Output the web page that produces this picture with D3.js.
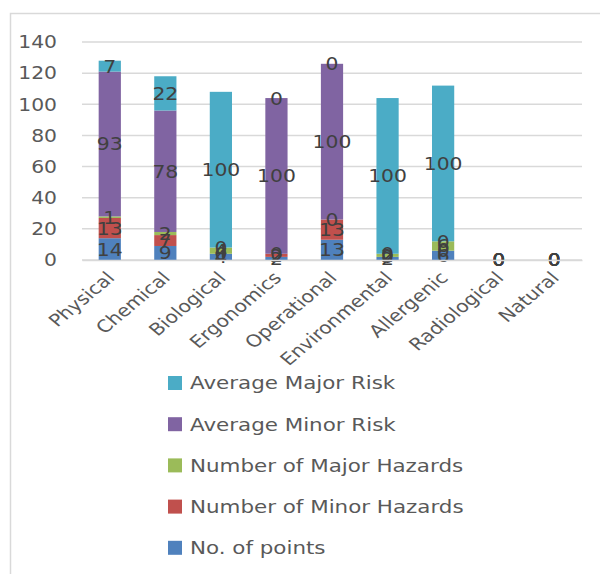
<!DOCTYPE html>
<html>
<head>
<meta charset="utf-8">
<script src="https://cdn.jsdelivr.net/npm/d3@7"></script>
<style>
  body { margin: 0; background: #fff; }
  text { font-family: "DejaVu Sans", sans-serif; }
</style>
</head>
<body>
<div id="chart"></div>
<script>
// categories and series
var categories = ["Physical", "Chemical", "Biological", "Ergonomics", "Operational",
  "Environmental", "Allergenic", "Radiological", "Natural"];
var noOfPoints   = [14, 9, 4, 2, 13, 2, 6, 0, 0];
var minorHazards = [13, 7, 0, 2, 13, 0, 0, 0, 0];
var majorHazards = [1, 2, 4, 0, 0, 2, 6, 0, 0];
var avgMinorRisk = [93, 78, 0, 100, 100, 0, 0, 0, 0];
var avgMajorRisk = [7, 22, 100, 0, 0, 100, 100, 0, 0];
var seriesNames = ["No. of points", "Number of Minor Hazards", "Number of Major Hazards",
  "Average Minor Risk", "Average Major Risk"];
var seriesColors = ["#4F81BD", "#C0504D", "#9BBB59", "#8064A2", "#4BACC6"];
var yTicks = [0, 20, 40, 60, 80, 100, 120, 140];

var svgWidth = 600, svgHeight = 574;
// the picture is stretched sideways a little, so text gets widened too
var stretch = 1.13;

var svg = d3.select("#chart").append("svg")
  .attr("width", svgWidth)
  .attr("height", svgHeight);

// chart area border (only top and left show)
svg.append("rect")
  .attr("x", 10.5).attr("y", 13.5)
  .attr("width", 700).attr("height", 700)
  .attr("fill", "none")
  .attr("stroke", "#d9d9d9")
  .attr("stroke-width", 1.5);

var x = d3.scaleBand().domain(categories).range([82, 582]).paddingInner(0.6).paddingOuter(0.3);
var y = d3.scaleLinear().domain([0, 140]).range([260, 42]);

// gridlines
svg.append("g").selectAll("line")
  .data(yTicks)
  .enter().append("line")
  .attr("x1", 82).attr("x2", 582)
  .attr("y1", d => y(d)).attr("y2", d => y(d))
  .attr("stroke", "#d9d9d9")
  .attr("stroke-width", 1.5);

// y axis labels
var leftAxis = d3.axisLeft(y).tickValues(yTicks).tickSize(0).tickPadding(0);
var yAxis = svg.append("g").attr("transform", "translate(57,0)").call(leftAxis);
yAxis.select(".domain").remove();
yAxis.selectAll("text")
  .attr("fill", "#595959")
  .attr("transform", `scale(${stretch},1)`)
  .style("font-size", "18px")
  .style("font-family", "DejaVu Sans, sans-serif");

// stack the data
var table = categories.map(function(c, i) {
  return {
    cat: c,
    s0: noOfPoints[i], s1: minorHazards[i], s2: majorHazards[i],
    s3: avgMinorRisk[i], s4: avgMajorRisk[i]
  };
});
var stack = d3.stack().keys(["s0", "s1", "s2", "s3", "s4"]);
var layers = stack(table);

var groups = svg.append("g").selectAll("g")
  .data(layers)
  .enter().append("g")
  .attr("fill", (d, i) => seriesColors[i]);

groups.selectAll("rect")
  .data(d => d)
  .enter().append("rect")
  .attr("x", d => x(d.data.cat))
  .attr("width", x.bandwidth())
  .attr("y", d => y(d[1]))
  .attr("height", d => y(d[0]) - y(d[1]));

// data labels in the middle of each segment
var labels = svg.append("g");
layers.forEach(function(layer) {
  labels.selectAll(null)
    .data(layer)
    .enter().append("text")
    .attr("transform", d => `translate(${x(d.data.cat) + x.bandwidth() / 2},${y((d[0] + d[1]) / 2)}) scale(${stretch},1)`)
    .attr("dy", "0.36em")
    .attr("text-anchor", "middle")
    .attr("fill", "#404040")
    .style("font-size", "18px")
    .text(d => d[1] - d[0]);
});

// category labels
var bottomAxis = d3.axisBottom(x).tickSize(0).tickPadding(0);
var xAxis = svg.append("g").attr("transform", "translate(0,260)").call(bottomAxis);
xAxis.select(".domain")
  .attr("stroke", "#d9d9d9")
  .attr("stroke-width", 1.5);
xAxis.selectAll("text")
  .attr("fill", "#595959")
  .style("font-size", "17px")
  .style("font-family", "DejaVu Sans, sans-serif")
  .attr("text-anchor", "end")
  .attr("y", 0)
  .attr("dy", "0")
  .attr("transform", `translate(6,19) scale(1.2,1) rotate(-45)`);

// legend, top to bottom
var legendOrder = [4, 3, 2, 1, 0];
var legend = svg.append("g").selectAll("g")
  .data(legendOrder)
  .enter().append("g")
  .attr("transform", (d, i) => `translate(168, ${383 + i * 41.2})`);

legend.append("rect")
  .attr("x", 0).attr("y", -7)
  .attr("width", 14).attr("height", 14)
  .attr("fill", d => seriesColors[d]);

legend.append("text")
  .attr("transform", "translate(22,0) scale(1.19,1)")
  .attr("dy", "0.36em")
  .attr("fill", "#595959")
  .style("font-size", "18px")
  .text(d => seriesNames[d]);
</script>
</body>
</html>
